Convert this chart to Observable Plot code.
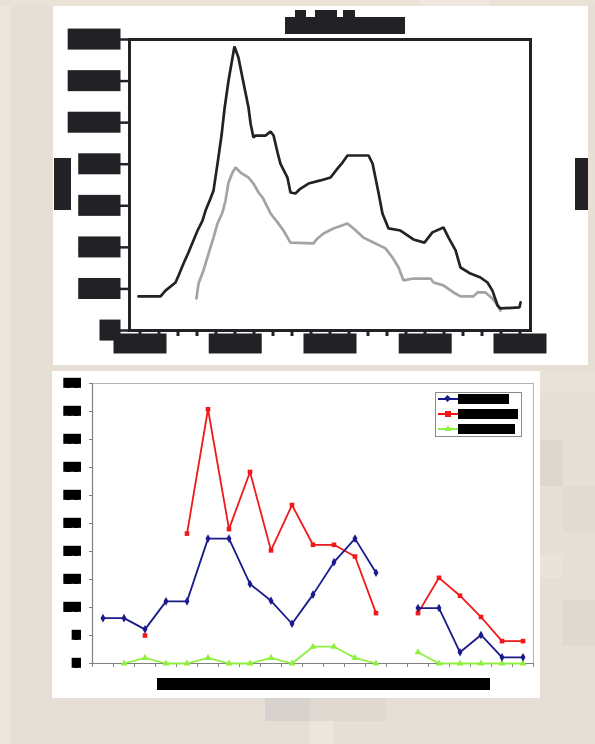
<!DOCTYPE html>
<html>
<head>
<meta charset="utf-8">
<script src="https://cdn.jsdelivr.net/npm/d3@7"></script>
<script src="https://cdn.jsdelivr.net/npm/@observablehq/plot@0.6"></script>
<style>
  html, body { margin: 0; padding: 0; }
  body { width: 595px; height: 744px; position: relative; overflow: hidden; background: #e6dfd5; font-family: "Liberation Sans", Arial, sans-serif; }
  .blk { position: absolute; }
  .panel { position: absolute; background: #fff; }
  .redact { position: absolute; color: #222226; background: #222226; overflow: hidden; white-space: nowrap; font-weight: bold; line-height: 1; }
  .redact.k { color: #000; background: #000; }
  .leg { position: absolute; left: 435px; top: 392px; width: 85px; height: 43px; border: 1px solid #8a8a8a; background: #fff; }
  .row { position: absolute; left: 0; width: 85px; height: 12px; }
  .ln { position: absolute; left: 2px; top: 5px; width: 20px; height: 2px; }
  .mk { position: absolute; }
</style>
</head>
<body>
<div id="bg"></div>
<div class="panel" id="top" style="left:53px;top:6px;width:535px;height:359px;"></div>
<div class="panel" id="bottom" style="left:52px;top:371px;width:488px;height:327px;"></div>

<!-- top chart title & axis titles (redacted text) -->
<div class="redact" style="left:285px;top:17px;width:120px;height:17px;font-size:15px;">Annual totals</div>
<div class="redact" style="left:295px;top:10px;width:11px;height:8px;font-size:6px;">T</div>
<div class="redact" style="left:315px;top:10px;width:22px;height:8px;font-size:6px;">ll</div>
<div class="redact" style="left:343px;top:10px;width:12px;height:8px;font-size:6px;">h</div>
<div class="redact" style="left:54px;top:158px;width:17px;height:52px;font-size:12px;writing-mode:vertical-rl;transform:rotate(180deg);">Number</div>
<div class="redact" style="left:575px;top:158px;width:13px;height:52px;font-size:10px;writing-mode:vertical-rl;">Number</div>

<!-- bottom chart axis title -->
<div class="redact k" style="left:157px;top:678px;width:333px;height:12px;font-size:11px;">Month of sampling</div>

<!-- bottom chart legend -->
<div class="leg">
  <div class="row" style="top:0px;">
    <div class="ln" style="background:#1a1a8a;"></div>
    <div class="mk" style="left:9px;top:3px;width:5px;height:5px;background:#1a1a8a;transform:rotate(45deg);"></div>
    <div class="redact k" style="left:22px;top:1px;width:51px;height:10px;font-size:9px;">Series A</div>
  </div>
  <div class="row" style="top:15px;">
    <div class="ln" style="background:#f01818;"></div>
    <div class="mk" style="left:9px;top:3px;width:6px;height:6px;background:#f01818;"></div>
    <div class="redact k" style="left:22px;top:1px;width:60px;height:10px;font-size:9px;">Series B</div>
  </div>
  <div class="row" style="top:30px;">
    <div class="ln" style="background:#90f040;"></div>
    <div class="mk" style="left:9px;top:2px;width:0;height:0;border-left:3px solid transparent;border-right:3px solid transparent;border-bottom:6px solid #90f040;"></div>
    <div class="redact k" style="left:22px;top:1px;width:57px;height:10px;font-size:9px;">Series C</div>
  </div>
</div>

<script>
// ---------------- data ----------------
// top chart: [year, value]
const blackSeries = [
  [1989.92,1640],[1991.08,1640],[1991.34,1920],[1991.87,2310],[1992.03,2650],[1992.29,3220],
  [1992.55,3750],[1993.03,4810],[1993.29,5290],[1993.45,5770],[1993.71,6350],[1993.87,6740],
  [1994.08,8030],[1994.29,9380],[1994.45,10680],[1994.66,12030],[1994.87,13130],[1994.97,13660],
  [1995.18,13130],[1995.39,12170],[1995.55,11450],[1995.71,10730],[1995.82,9960],[1995.97,9290],
  [1996.08,9380],[1996.61,9380],[1996.87,9570],[1997.03,9380],[1997.24,8560],[1997.39,8030],
  [1997.76,7360],[1997.92,6640],[1998.18,6590],[1998.45,6830],[1998.87,7070],[1999.50,7220],
  [2000.03,7360],[2000.39,7790],[2000.66,8080],[2000.92,8420],[2002.03,8420],[2002.24,8030],
  [2002.39,7360],[2002.55,6640],[2002.76,5630],[2003.08,4910],[2003.71,4810],[2004.39,4380],
  [2004.97,4230],[2005.39,4720],[2005.97,4960],[2006.24,4470],[2006.61,3850],[2006.87,3030],
  [2007.39,2740],[2007.92,2550],[2008.29,2310],[2008.55,1920],[2008.82,1200],[2008.97,1060],
  [2009.97,1110],[2010.03,1350]
];
const graySeries = [
  [1992.97,1540],[1993.08,2260],[1993.34,2890],[1993.66,3850],[1993.87,4470],[1994.08,5150],
  [1994.34,5680],[1994.50,6250],[1994.66,7120],[1994.87,7600],[1995.03,7840],[1995.29,7600],
  [1995.71,7360],[1995.97,7070],[1996.24,6640],[1996.45,6400],[1996.87,5630],[1997.24,5200],
  [1997.55,4810],[1997.92,4230],[1999.13,4190],[1999.34,4430],[1999.66,4670],[2000.18,4910],
  [2000.92,5150],[2001.24,4910],[2001.76,4470],[2002.29,4230],[2002.92,3950],[2003.29,3510],
  [2003.61,3030],[2003.87,2410],[2004.39,2500],[2005.29,2500],[2005.45,2310],[2005.97,2170],
  [2006.50,1830],[2006.87,1640],[2007.55,1640],[2007.76,1830],[2008.18,1830],[2008.55,1540],
  [2008.82,1200],[2008.97,960]
];
const topYTicks = [0, 2000, 4000, 6000, 8000, 10000, 12000, 14000];
const topXLabels = [1990, 1995, 2000, 2005, 2010];
const topXMinor = d3.range(1990, 2011);

// bottom chart: 21 categories
const bottomCats = d3.range(21);
const blueVals  = [8.1, 8.1, 6.1, 11.1, 11.1, 22.3, 22.3, 14.2, 11.2, 7.1, 12.3, 18.1, 22.3, 16.2, null, 9.9, 9.9, 2.0, 5.1, 1.1, 1.1];
const redVals   = [null, null, 5.0, null, 23.2, 45.4, 24.0, 34.2, 20.2, 28.3, 21.2, 21.2, 19.1, 9.0, null, 9.0, 15.3, 12.1, 8.3, 4.0, 4.0];
const greenVals = [null, 0, 1, 0, 0, 1, 0, 0, 1, 0, 3, 3, 1, 0, null, 2, 0, 0, 0, 0, 0];
const bottomYTicks = d3.range(0, 51, 5);

// ---------------- background mosaic ----------------
const blocks = [
  [0,0,10,744,"#ede7de"],[540,370,55,23,"#e9e2d8"],[540,440,23,46,"#ddd7d0"],[563,486,32,46,"#e2dbd1"],
  [540,555,23,23,"#e9e3da"],[563,600,32,46,"#dfd9d1"],[265,698,45,23,"#d7d2cd"],[310,698,46,23,"#dfd9d2"],
  [356,698,30,23,"#e0d9d0"],[310,721,23,23,"#ece6dc"],[0,0,595,6,"#e9e2d7"],[420,0,70,6,"#efe8de"]
];
const bg = document.getElementById("bg");
for (const [x, y, w, h, c] of blocks) {
  const d = document.createElement("div");
  d.className = "blk";
  d.style.cssText = `left:${x}px;top:${y}px;width:${w}px;height:${h}px;background:${c};`;
  bg.appendChild(d);
}

// ---------------- helpers ----------------
function redact(svg, label, {padX = 0, w = null, minW = 0, h, fill}) {
  svg.querySelectorAll(`g[aria-label="${label}"] text`).forEach(t => {
    if (!t.textContent.trim()) return;
    const b = t.getBBox();
    const width = w != null ? w : Math.max(b.width + 2 * padX, minW);
    const anchor = getComputedStyle(t).textAnchor;
    let rx;
    if (anchor === "end") rx = b.x + b.width + padX - width;
    else if (anchor === "middle") rx = b.x + b.width / 2 - width / 2;
    else rx = b.x - padX;
    const ry = b.y + b.height / 2 - h / 2;
    const r = document.createElementNS("http://www.w3.org/2000/svg", "rect");
    r.setAttribute("x", rx); r.setAttribute("y", ry);
    r.setAttribute("width", width); r.setAttribute("height", h);
    r.setAttribute("fill", fill);
    if (t.getAttribute("transform")) r.setAttribute("transform", t.getAttribute("transform"));
    t.parentNode.insertBefore(r, t);
    t.setAttribute("fill", fill);
  });
}

// ---------------- top chart ----------------
const dark = "#222226";
const topPlot = Plot.plot({
  width: 535, height: 359,
  marginLeft: 76, marginRight: 58, marginTop: 33, marginBottom: 35,
  style: {background: "white", fontFamily: "Liberation Sans, Arial, sans-serif", fontWeight: "bold", color: dark},
  x: {domain: [1989.447, 2010.553]},
  y: {domain: [0, 14000]},
  marks: [
    Plot.line(graySeries, {x: d => d[0], y: d => d[1], stroke: "#a3a3a7", strokeWidth: 2.7, strokeLinejoin: "miter"}),
    Plot.line(blackSeries, {x: d => d[0], y: d => d[1], stroke: dark, strokeWidth: 2.7, strokeLinejoin: "miter"}),
    Plot.frame({stroke: dark, strokeWidth: 3}),
    Plot.axisY({ticks: topYTicks, tickSize: 9, tickPadding: 0, strokeWidth: 2.5, fontSize: 19, tickFormat: d3.format("d"), label: null}),
    Plot.axisX({ticks: topXMinor, tickSize: 6, strokeWidth: 3, tickFormat: () => "", label: null}),
    Plot.axisX({ticks: topXLabels, tickSize: 0, tickPadding: 6, fontSize: 19, tickFormat: d3.format("d"), label: null})
  ]
});
document.getElementById("top").appendChild(topPlot);
redact(topPlot, "y-axis tick label", {padX: 0, minW: 21, h: 21, fill: dark});
redact(topPlot, "x-axis tick label", {w: 53, h: 20, fill: dark});

// ---------------- bottom chart ----------------
const blue = "#1a1a8a", red = "#f01818", green = "#90f040";
const bottomPlot = Plot.plot({
  width: 488, height: 327,
  marginLeft: 40, marginRight: 7, marginTop: 12, marginBottom: 35,
  style: {background: "white", fontFamily: "Liberation Sans, Arial, sans-serif", fontWeight: "bold", color: "#000"},
  x: {domain: [-0.5, 20.5]},
  y: {domain: [0, 50]},
  marks: [
    Plot.frame({stroke: "#b4b4b4", strokeWidth: 1}),
    Plot.ruleX([-0.5], {stroke: "#808080", strokeWidth: 1.2}),
    Plot.ruleY([0], {stroke: "#808080", strokeWidth: 1.2}),
    Plot.axisY({ticks: bottomYTicks, tickSize: 3, tickPadding: 9, stroke: "#808080", fontSize: 15, label: null}),
    Plot.axisX({ticks: d3.range(-0.5, 21, 1), tickSize: 4, stroke: "#808080", tickFormat: () => "", label: null}),
    Plot.line(bottomCats, {x: i => i, y: i => greenVals[i], stroke: green, strokeWidth: 1.8}),
    Plot.dot(bottomCats, {x: i => i, y: i => greenVals[i], symbol: "triangle", r: 2.6, fill: green}),
    Plot.line(bottomCats, {x: i => i, y: i => redVals[i], stroke: red, strokeWidth: 1.8}),
    Plot.dot(bottomCats, {x: i => i, y: i => redVals[i], symbol: "square", r: 2.6, fill: red}),
    Plot.line(bottomCats, {x: i => i, y: i => blueVals[i], stroke: blue, strokeWidth: 1.8}),
    Plot.dot(bottomCats, {x: i => i, y: i => blueVals[i], symbol: "diamond", r: 2.6, fill: blue})
  ]
});
document.getElementById("bottom").appendChild(bottomPlot);
redact(bottomPlot, "y-axis tick label", {padX: 0.5, h: 10, fill: "#000"});
</script>
</body>
</html>
